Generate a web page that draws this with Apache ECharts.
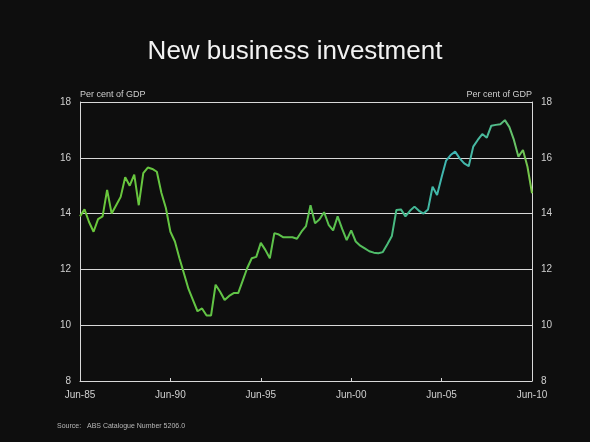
<!DOCTYPE html>
<html>
<head>
<meta charset="utf-8">
<script src="https://cdn.jsdelivr.net/npm/echarts@6/dist/echarts.min.js"></script>
<style>
html,body{margin:0;padding:0;background:#0e0e0e;}
#c{width:590px;height:442px;}
</style>
</head>
<body>
<div id="c"></div>
<script>
// Quarterly, Jun-85 .. Jun-10 (per cent of GDP)
var investment = [
  13.9, 14.15, 13.7, 13.35, 13.8, 13.9, 14.85, 14.0, 14.3, 14.6,
  15.3, 15.0, 15.4, 14.3, 15.45, 15.65, 15.6, 15.5, 14.75, 14.2,
  13.35, 13.0, 12.4, 11.85, 11.3, 10.9, 10.5, 10.6, 10.35, 10.35,
  11.45, 11.2, 10.9, 11.05, 11.15, 11.15, 11.6, 12.05, 12.4, 12.45,
  12.95, 12.7, 12.4, 13.3, 13.25, 13.15, 13.15, 13.15, 13.1, 13.35,
  13.55, 14.3, 13.65, 13.8, 14.05, 13.6, 13.4, 13.9, 13.45, 13.05,
  13.4, 13.0, 12.85, 12.75, 12.65, 12.6, 12.58, 12.62, 12.9, 13.2,
  14.13, 14.15, 13.9, 14.1, 14.25, 14.1, 14.0, 14.15, 14.96, 14.67,
  15.3, 15.9, 16.1, 16.22, 15.98, 15.8, 15.7, 16.4, 16.64, 16.85,
  16.72, 17.15, 17.18, 17.2, 17.35, 17.1, 16.64, 16.04, 16.28, 15.68,
  14.73
];
var months = ['Jun', 'Sep', 'Dec', 'Mar'];
var startYear = 1985;
var quarters = [];
for (var i = 0; i < investment.length; i++) {
  var m = months[i % 4];
  var y = startYear + Math.floor((i + 2) / 4);
  quarters.push(m + '-' + String(y).slice(2));
}
var yTicks = [8, 10, 12, 14, 16, 18];
var titleText = 'New business investment';
var unitText = 'Per cent of GDP';
var sourceText = 'Source:   ABS Catalogue Number 5206.0';

var font = 'Liberation Sans, Arial, sans-serif';
var chart = echarts.init(document.getElementById('c'));
var yAxisCommon = {
  type: 'value', min: yTicks[0], max: yTicks[yTicks.length - 1], interval: 2,
  name: unitText, nameLocation: 'end', nameGap: 3,
  axisLine: {show: true, lineStyle: {color: '#d8d8d8', width: 1}},
  axisTick: {show: false},
  axisLabel: {color: '#cfcfcf', fontSize: 10, fontFamily: font, margin: 9}
};
chart.setOption({
  backgroundColor: '#0e0e0e',
  animation: false,
  title: {
    text: titleText, left: 'center', top: 34,
    textStyle: {color: '#f2f2f2', fontSize: 26, fontWeight: 'normal', fontFamily: font}
  },
  grid: {left: 80, right: 58, top: 102, bottom: 61, containLabel: false},
  xAxis: {
    type: 'category', data: quarters, boundaryGap: false,
    axisLine: {show: true, lineStyle: {color: '#d8d8d8', width: 1}},
    axisTick: {show: true, inside: true, length: 3, interval: 19, lineStyle: {color: '#d8d8d8'}},
    axisLabel: {interval: 19, color: '#cfcfcf', fontSize: 10, fontFamily: font, margin: 9, showMaxLabel: true},
    splitLine: {show: false}
  },
  yAxis: [
    Object.assign({}, yAxisCommon, {
      position: 'left',
      nameTextStyle: {color: '#cfcfcf', fontSize: 9, fontFamily: font, align: 'left', verticalAlign: 'bottom'},
      splitLine: {show: true, lineStyle: {color: '#d8d8d8', width: 1}}
    }),
    Object.assign({}, yAxisCommon, {
      position: 'right',
      nameTextStyle: {color: '#cfcfcf', fontSize: 9, fontFamily: font, align: 'right', verticalAlign: 'bottom'},
      splitLine: {show: false}
    })
  ],
  graphic: [{
    type: 'text', left: 57, top: 423,
    style: {text: sourceText, fill: '#b8b8b8', fontSize: 7, fontFamily: font}
  }],
  series: [{
    type: 'line', data: investment, yAxisIndex: 0, symbol: 'none',
    lineStyle: {
      width: 2,
      color: new echarts.graphic.LinearGradient(0, 0, 1, 0, [
        {offset: 0, color: '#6cc83a'},
        {offset: 0.6, color: '#58c050'},
        {offset: 0.72, color: '#44b890'},
        {offset: 0.82, color: '#3fb6b6'},
        {offset: 0.9, color: '#4cba96'},
        {offset: 1, color: '#7cc840'}
      ])
    }
  }]
});
</script>
</body>
</html>
